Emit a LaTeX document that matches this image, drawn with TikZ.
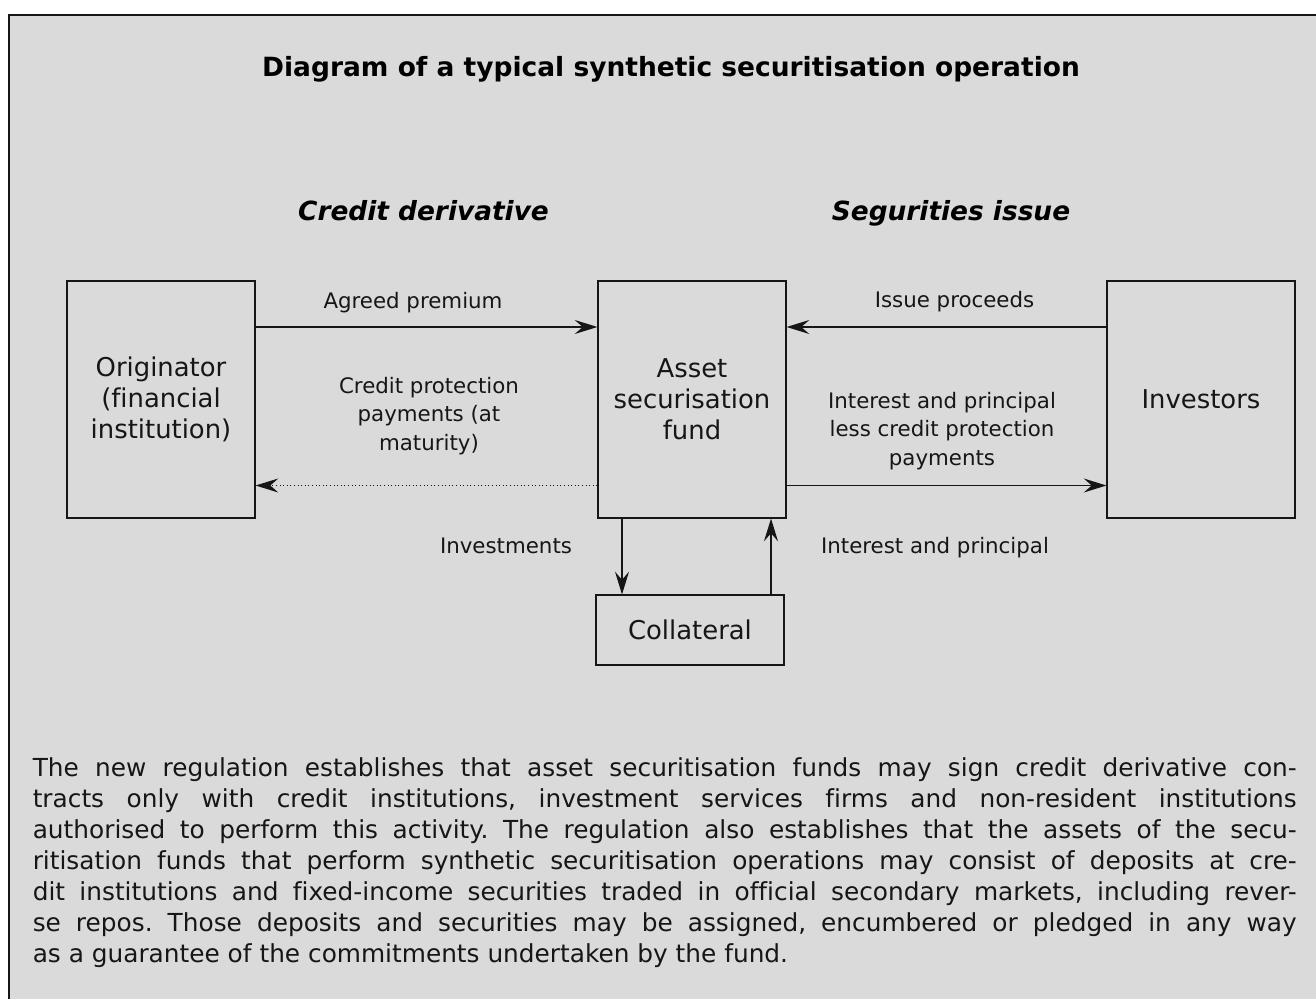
\documentclass[tikz,border=0pt]{standalone}
\usepackage{fontspec}
\setmainfont{DejaVu Sans}[Ligatures=NoCommon]
\usetikzlibrary{arrows.meta,calc}
\definecolor{bg}{RGB}{218,218,218}
\definecolor{ink}{RGB}{22,22,22}
\frenchspacing
\begin{document}
\begin{tikzpicture}[x=0.75pt,y=-0.75pt,
  box/.style={draw=ink,line width=0.9pt,fill=bg,inner sep=0pt,align=center,
    font=\fontsize{19.4}{23.25}\selectfont,text=ink},
  lbl/.style={font=\fontsize{16}{21.3}\selectfont,align=center,inner sep=0pt,text=ink},
  head/.style={font=\fontsize{19.8}{23}\selectfont\bfseries\itshape,inner sep=0pt,text=black},
  tip/.style={-{Stealth[length=17pt,width=10.5pt,inset=6pt]}},
  conn/.style={draw=ink,line width=0.9pt,tip},
  dconn/.style={draw=ink,line width=0.7pt,dotted,tip},
]
\useasboundingbox (0,0) rectangle (1316,999);
\fill[bg] (9,15) rectangle (1316,999);
\draw[ink,line width=1.5pt] (9,999) -- (9,15) -- (1316,15);

% title and headings
\node[inner sep=0pt,anchor=base,font=\fontsize{19.85}{23}\selectfont\bfseries] (title) at (671,77) {Diagram of a typical synthetic securitisation operation};
\node[head,anchor=base] (cd) at (423.5,220) {Credit derivative};
\node[head,anchor=base] (si) at (951,220) {Segurities issue};

% boxes
\node[box,minimum width=141pt,minimum height=177.75pt] (orig) at (161,399.5) {Originator\\(financial\\institution)};
\node[box,minimum width=141pt,minimum height=177.75pt] (fund) at (692,399.5) {Asset\\securisation\\fund};
\node[box,minimum width=141pt,minimum height=177.75pt] (inv) at (1201,399.5) {Investors};
\node[box,minimum width=141pt,minimum height=52.5pt] (coll) at (690,630) {Collateral};

% connector levels
\coordinate (ytop) at (0,327);
\coordinate (ybot) at (0,485.5);
\coordinate (xdown) at (622,0);
\coordinate (xup) at (771,0);

\draw[conn] (orig.east |- ytop) -- (fund.west |- ytop);
\draw[dconn] (fund.west |- ybot) -- (orig.east |- ybot);
\draw[conn] (inv.west |- ytop) -- (fund.east |- ytop);
\draw[conn] (fund.east |- ybot) -- (inv.west |- ybot);
\draw[conn] (fund.south -| xdown) -- (coll.north -| xdown);
\draw[conn] (coll.north -| xup) -- (fund.south -| xup);

% labels
\node[lbl,anchor=base] (lap) at (413,308) {Agreed premium};
\node[lbl,anchor=north] (lcp) at (429,376.8) {Credit protection\\payments (at\\maturity)};
\node[lbl,anchor=base] (lip) at (954.5,307) {Issue proceeds};
\node[lbl,anchor=north] (lless) at (942,391.8) {Interest and principal\\less credit protection\\payments};
\node[lbl,anchor=base] (linv) at (506,553) {Investments};
\node[lbl,anchor=base] (lint) at (935,553) {Interest and principal};

% paragraph
\node[anchor=north west,inner sep=0pt,align=left,text=ink,
  font=\fontsize{18.6}{23.25}\selectfont] (para) at (32.5,757) {%
\makebox[948pt][s]{The new regulation establishes that asset securitisation funds may sign credit derivative con-}\\
\makebox[948pt][s]{tracts only with credit institutions, investment services firms and non-resident institutions}\\
\makebox[948pt][s]{authorised to perform this activity. The regulation also establishes that the assets of the secu-}\\
\makebox[948pt][s]{ritisation funds that perform synthetic securitisation operations may consist of deposits at cre-}\\
\makebox[948pt][s]{dit institutions and fixed-income securities traded in official secondary markets, including rever-}\\
\makebox[948pt][s]{se repos. Those deposits and securities may be assigned, encumbered or pledged in any way}\\
as a guarantee of the commitments undertaken by the fund.};
\end{tikzpicture}
\end{document}
